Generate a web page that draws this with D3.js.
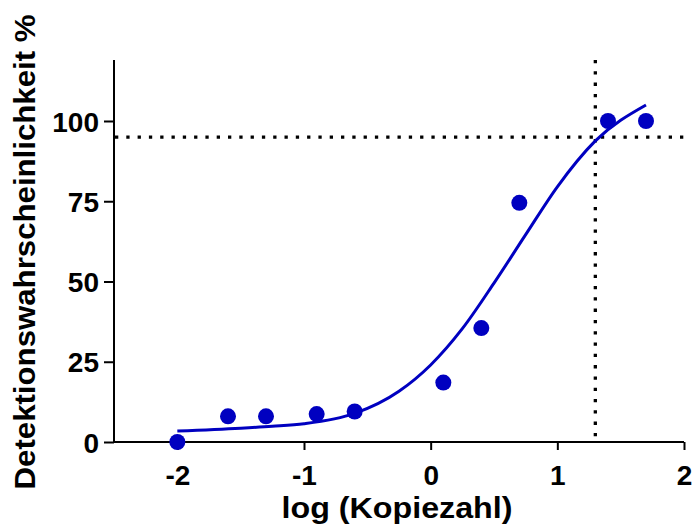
<!DOCTYPE html>
<html><head><meta charset="utf-8">
<script src="https://cdn.jsdelivr.net/npm/d3@7"></script>
<style>body{margin:0;background:#fff}svg{display:block}text{font-family:Arial,"Liberation Sans",sans-serif;font-weight:bold;fill:#000}</style>
</head><body>
<svg id="c" width="692" height="532"></svg>
<script>
const pointX = [-2, -1.6, -1.3, -0.9, -0.6, 0.1, 0.4, 0.7, 1.4, 1.7];
const pointY = [0, 8, 8, 8.7, 9.5, 18.5, 35.5, 74.5, 100, 100];
const curveX = [-2, -1.5, -1.25, -1, -0.6, -0.25, 0, 0.25, 0.5, 0.75, 1.0, 1.3, 1.7];
const curveY = [3.4, 4.3, 4.9, 5.7, 8.9, 15.8, 24.0, 35.3, 49.5, 64.6, 79.5, 93.8, 105];
const xTicks = [-2, -1, 0, 1, 2];
const yTicks = [0, 25, 50, 75, 100];
const refX = 1.3, refY = 95;
const xLabel = "log (Kopiezahl)";
const yLabel = "Detektionswahrscheinlichkeit %";

const svg = d3.select("#c");
const x = d3.scaleLinear().domain([-2.5, 2]).range([114, 684]);
const y = d3.scaleLinear().domain([0, 119]).range([442, 60]);
const blue = "#0000C0";

// axes
const xa = svg.append("g").attr("transform", `translate(0,${y(0)})`)
  .call(d3.axisBottom(x).tickValues(xTicks).tickSize(8).tickPadding(0).tickFormat(d => String(d)));
const ya = svg.append("g").attr("transform", `translate(${x(-2.5)},0)`)
  .call(d3.axisLeft(y).tickValues(yTicks).tickSize(10).tickPadding(5).tickFormat(d => String(d)));
[xa, ya].forEach(a => {
  a.select(".domain").attr("stroke", "#000").attr("stroke-width", 2);
  a.selectAll(".tick line").attr("stroke", "#000").attr("stroke-width", 2);
  a.selectAll(".tick text").style("font-size", "28px").style("font-weight", "bold").attr("fill", "#000");
});
xa.select(".domain").attr("d", `M${x(-2.5)},0H${x(2)}`);
ya.select(".domain").attr("d", `M0,${y(119)}V${y(0)}`);
xa.selectAll(".tick text").attr("dy", null).attr("y", 43);
ya.selectAll(".tick text").attr("dy", "0.36em");

// reference lines
svg.append("line").attr("x1", x(-2.5)+1).attr("x2", x(2)).attr("y1", y(refY)).attr("y2", y(refY))
  .attr("stroke", "#000").attr("stroke-width", 3.3).attr("stroke-dasharray", "3.3,8");
svg.append("line").attr("x1", x(refX)).attr("x2", x(refX)).attr("y1", y(119)).attr("y2", y(0))
  .attr("stroke", "#000").attr("stroke-width", 3.3).attr("stroke-dasharray", "3.3,8");

// curve
const curve = curveX.map((v, i) => [v, curveY[i]]);
svg.append("path").datum(curve)
  .attr("d", d3.line().x(d => x(d[0])).y(d => y(d[1])).curve(d3.curveMonotoneX))
  .attr("fill", "none").attr("stroke", blue).attr("stroke-width", 3);

// points
svg.selectAll("circle.pt").data(pointX.map((v, i) => [v, pointY[i]])).enter()
  .append("circle").attr("class", "pt")
  .attr("cx", d => x(d[0])).attr("cy", d => y(d[1])).attr("r", 8).attr("fill", blue);

// titles
svg.append("text").attr("x", 397).attr("y", 518).attr("text-anchor", "middle")
  .attr("textLength", 231).attr("lengthAdjust", "spacingAndGlyphs")
  .style("font-size", "30px").text(xLabel);
svg.append("text").attr("transform", "translate(35,252) rotate(-90)").attr("text-anchor", "middle")
  .attr("textLength", 475).attr("lengthAdjust", "spacingAndGlyphs")
  .style("font-size", "30px").text(yLabel);
</script>
</body></html>
